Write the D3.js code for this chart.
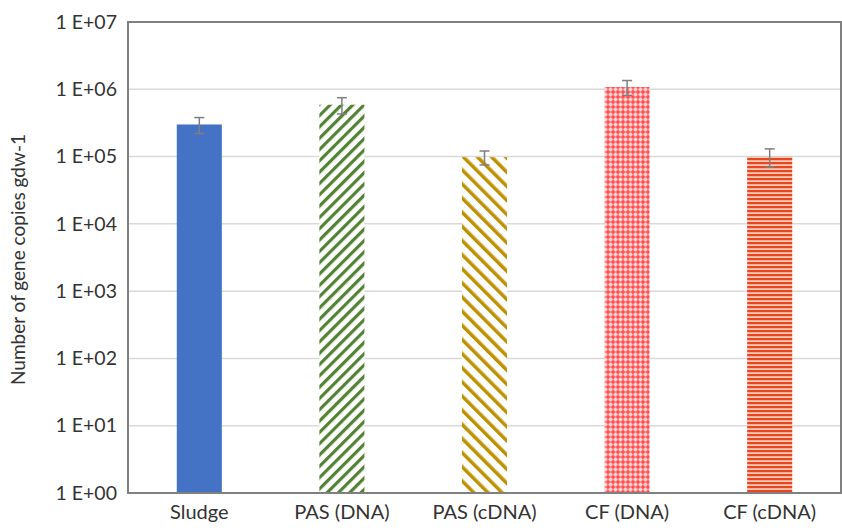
<!DOCTYPE html>
<html>
<head>
<meta charset="utf-8">
<script src="https://cdn.jsdelivr.net/npm/d3@7"></script>
<style>
  body { margin: 0; background: #fff; }
  text { font-family: Lato, "Liberation Sans", sans-serif; fill: #333; }
</style>
</head>
<body>
<div id="chart"></div>
<script>
const categories = ["Sludge", "PAS (DNA)", "PAS (cDNA)", "CF (DNA)", "CF (cDNA)"];
const values = [3.0e5, 5.9e5, 9.8e4, 1.08e6, 1.0e5];
const errors = [0.8e5, 1.6e5, 2.3e4, 2.7e5, 3.0e4];
const tickValues = [1, 1e1, 1e2, 1e3, 1e4, 1e5, 1e6, 1e7];
const tickLabels = ["1 E+00", "1 E+01", "1 E+02", "1 E+03", "1 E+04", "1 E+05", "1 E+06", "1 E+07"];
const fills = ["#4472c4", "url(#pGreen)", "url(#pGold)", "url(#pRed)", "url(#pOrange)"];

const W = 842, H = 531;
const margin = { top: 22, right: 1, bottom: 38, left: 128 };
const width = W - margin.left - margin.right;
const height = H - margin.top - margin.bottom;

const svg = d3.select("#chart")
  .append("svg")
  .attr("width", W)
  .attr("height", H);

// fill patterns
const defs = svg.append("defs");

const pg = defs.append("pattern").attr("id", "pGreen")
  .attr("patternUnits", "userSpaceOnUse").attr("width", 8).attr("height", 8)
  .attr("patternTransform", "rotate(45)");
pg.append("rect").attr("width", 8).attr("height", 8).attr("fill", "#fff");
pg.append("rect").attr("width", 3.2).attr("height", 8).attr("fill", "#548235");

const pd = defs.append("pattern").attr("id", "pGold")
  .attr("patternUnits", "userSpaceOnUse").attr("width", 10).attr("height", 10)
  .attr("patternTransform", "rotate(-45)");
pd.append("rect").attr("width", 10).attr("height", 10).attr("fill", "#fff");
pd.append("rect").attr("width", 3.5).attr("height", 10).attr("fill", "#bf9000");

const pr = defs.append("pattern").attr("id", "pRed")
  .attr("patternUnits", "userSpaceOnUse").attr("width", 5).attr("height", 5);
pr.append("rect").attr("width", 5).attr("height", 5).attr("fill", "#ff4d4d");
pr.append("rect").attr("x", 1.5).attr("y", 0.5).attr("width", 2).attr("height", 4).attr("fill", "#ffdada");
pr.append("rect").attr("x", 0.5).attr("y", 1.5).attr("width", 4).attr("height", 2).attr("fill", "#ffdada");

const po = defs.append("pattern").attr("id", "pOrange")
  .attr("patternUnits", "userSpaceOnUse").attr("width", 4).attr("height", 4);
po.append("rect").attr("width", 4).attr("height", 4).attr("fill", "#f7c9b8");
po.append("rect").attr("width", 4).attr("height", 2.2).attr("fill", "#e8461e");

const g = svg.append("g")
  .attr("transform", `translate(${margin.left},${margin.top})`);

const x = d3.scaleBand()
  .domain(categories)
  .range([0, width])
  .paddingInner(0.684)
  .paddingOuter(0.342);

const y = d3.scaleLog()
  .domain([1, 1e7])
  .range([height, 0]);

// gridlines
g.selectAll(".grid")
  .data(tickValues.slice(1, -1))
  .enter().append("line")
  .attr("x1", 0).attr("x2", width)
  .attr("y1", d => y(d)).attr("y2", d => y(d))
  .attr("stroke", "#d9d9d9").attr("stroke-width", 1.5);

// bars
g.selectAll(".bar")
  .data(values)
  .enter().append("rect")
  .attr("x", (d, i) => x(categories[i]))
  .attr("y", d => y(d))
  .attr("width", x.bandwidth())
  .attr("height", d => height - y(d))
  .attr("fill", (d, i) => fills[i]);

// error bars
const eb = g.selectAll(".err")
  .data(values)
  .enter().append("g")
  .attr("stroke", "#7f7f7f").attr("stroke-width", 1.5);
eb.append("line")
  .attr("x1", (d, i) => x(categories[i]) + x.bandwidth() / 2)
  .attr("x2", (d, i) => x(categories[i]) + x.bandwidth() / 2)
  .attr("y1", (d, i) => y(d + errors[i]))
  .attr("y2", (d, i) => y(d - errors[i]));
eb.append("line")
  .attr("x1", (d, i) => x(categories[i]) + x.bandwidth() / 2 - 5)
  .attr("x2", (d, i) => x(categories[i]) + x.bandwidth() / 2 + 5)
  .attr("y1", (d, i) => y(d + errors[i]))
  .attr("y2", (d, i) => y(d + errors[i]));
eb.append("line")
  .attr("x1", (d, i) => x(categories[i]) + x.bandwidth() / 2 - 5)
  .attr("x2", (d, i) => x(categories[i]) + x.bandwidth() / 2 + 5)
  .attr("y1", (d, i) => y(d - errors[i]))
  .attr("y2", (d, i) => y(d - errors[i]));

// frame
g.append("rect")
  .attr("width", width).attr("height", height)
  .attr("fill", "none").attr("stroke", "#808080").attr("stroke-width", 2);

// axes
const yAxis = d3.axisLeft(y)
  .tickValues(tickValues)
  .tickFormat((d, i) => tickLabels[i])
  .tickSize(0)
  .tickPadding(11);
g.append("g").call(yAxis)
  .call(s => s.select(".domain").remove())
  .selectAll("text")
  .style("font-size", "19.5px");

const xAxis = d3.axisBottom(x).tickSize(0).tickPadding(12);
g.append("g")
  .attr("transform", `translate(0,${height})`)
  .call(xAxis)
  .call(s => s.select(".domain").remove())
  .selectAll("text")
  .style("font-size", "20px");

svg.selectAll(".tick text").attr("fill", "#333");

svg.append("text")
  .attr("transform", `translate(25,${margin.top + height / 2 + 2}) rotate(-90)`)
  .attr("text-anchor", "middle")
  .style("font-size", "19px")
  .text("Number of gene copies gdw-1");
</script>
</body>
</html>
